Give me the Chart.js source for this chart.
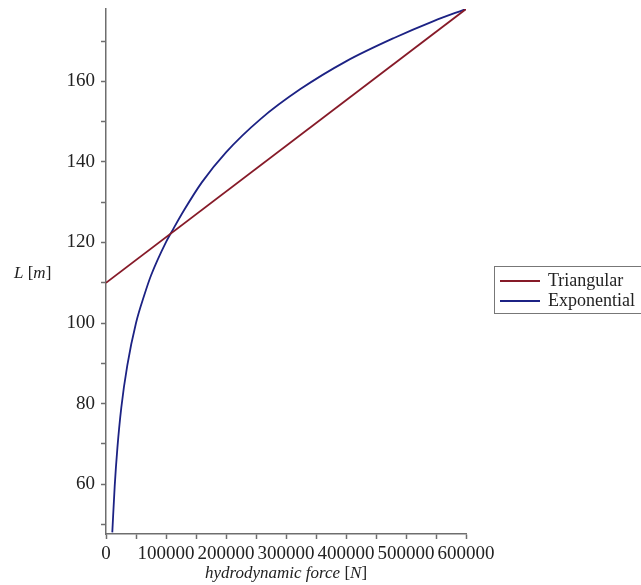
<!DOCTYPE html>
<html>
<head>
<meta charset="utf-8">
<script src="https://cdn.jsdelivr.net/npm/chart.js@4"></script>
<style>
  html, body { margin: 0; padding: 0; background: #fff; }
</style>
</head>
<body>
<canvas id="chart" width="641" height="585"></canvas>
<script>
// values
const forceTriangular = [0, 600000];
const lengthTriangular = [110, 178];

const forceExponential = [10500, 14500, 19000, 25500, 35500, 50000, 64000, 75000, 100000, 110000, 130000, 160000, 200000, 257000, 324000, 400000, 480000, 546000, 600000];
const lengthExponential = [48, 59.5, 69, 79, 89.5, 100, 107, 111.8, 120.1, 122.8, 128, 135, 142.4, 150.6, 158.1, 165, 170.8, 175, 178];

const xTickLabels = [0, 100000, 200000, 300000, 400000, 500000, 600000];
const yTickLabels = [60, 80, 100, 120, 140, 160];

const serif = '"Liberation Serif", "Times New Roman", serif';

const toPoints = (xs, ys) => xs.map((x, i) => ({ x: x, y: ys[i] }));

// axis titles + boxed legend, drawn like the maple output
const extras = {
  id: 'extras',
  afterDraw(chart) {
    const ctx = chart.ctx;
    const area = chart.chartArea;
    ctx.save();
    ctx.fillStyle = '#222';
    ctx.textBaseline = 'middle';

    // y title  L [m]
    let x = 14;
    const yMid = 274;
    [['italic', 'L'], ['normal', ' ['], ['italic', 'm'], ['normal', ']']].forEach(p => {
      ctx.font = p[0] + ' 17px ' + serif;
      ctx.fillText(p[1], x, yMid);
      x += ctx.measureText(p[1]).width;
    });

    // x title  hydrodynamic force [N]
    const parts = [['italic', 'hydrodynamic force '], ['normal', '['], ['italic', 'N'], ['normal', ']']];
    let w = 0;
    parts.forEach(p => { ctx.font = p[0] + ' 17px ' + serif; w += ctx.measureText(p[1]).width; });
    x = (area.left + area.right) / 2 - w / 2;
    parts.forEach(p => {
      ctx.font = p[0] + ' 17px ' + serif;
      ctx.fillText(p[1], x, 574);
      x += ctx.measureText(p[1]).width;
    });

    // legend
    ctx.strokeStyle = '#777';
    ctx.lineWidth = 1;
    ctx.strokeRect(494.5, 266.5, 150, 47);
    ctx.font = '18px ' + serif;
    chart.data.datasets.forEach((ds, i) => {
      const y = 281 + i * 20;
      ctx.strokeStyle = ds.borderColor;
      ctx.lineWidth = 2;
      ctx.beginPath();
      ctx.moveTo(500, y);
      ctx.lineTo(540, y);
      ctx.stroke();
      ctx.fillText(ds.label, 548, y);
    });
    ctx.restore();
  }
};

new Chart(document.getElementById('chart').getContext('2d'), {
  type: 'line',
  data: {
    datasets: [
      {
        label: 'Triangular',
        data: toPoints(forceTriangular, lengthTriangular),
        borderColor: 'rgb(134, 26, 40)',
        borderWidth: 1.8,
        pointRadius: 0
      },
      {
        label: 'Exponential',
        data: toPoints(forceExponential, lengthExponential),
        borderColor: 'rgb(28, 34, 132)',
        borderWidth: 1.8,
        pointRadius: 0,
        cubicInterpolationMode: 'monotone'
      }
    ]
  },
  plugins: [extras],
  options: {
    responsive: false,
    animation: false,
    devicePixelRatio: 1,
    layout: { padding: { left: 56, top: 9, right: 175, bottom: 0 } },
    plugins: {
      legend: { display: false },
      tooltip: { enabled: false }
    },
    scales: {
      x: {
        type: 'linear',
        min: 0,
        max: 600000,
        afterFit: s => { s.height = 51; },
        border: { color: '#6e6e6e', width: 1.5 },
        grid: { drawOnChartArea: false, tickLength: 5, color: '#6e6e6e', tickWidth: 1.5 },
        ticks: {
          stepSize: 50000,
          autoSkip: false,
          maxRotation: 0,
          padding: 4,
          color: '#222',
          font: { family: serif, size: 19 },
          callback: v => xTickLabels.includes(v) ? String(v) : ''
        }
      },
      y: {
        min: 47.6,
        max: 178,
        afterFit: s => { s.width = 50; s.paddingTop = 0; s.paddingBottom = 0; },
        border: { color: '#6e6e6e', width: 1.5 },
        grid: { drawOnChartArea: false, tickLength: 5, color: '#6e6e6e', tickWidth: 1.5 },
        ticks: {
          stepSize: 10,
          includeBounds: false,
          autoSkip: false,
          padding: 6,
          color: '#222',
          font: { family: serif, size: 19 },
          callback: v => yTickLabels.includes(v) ? String(v) : ''
        }
      }
    }
  }
});
</script>
</body>
</html>
